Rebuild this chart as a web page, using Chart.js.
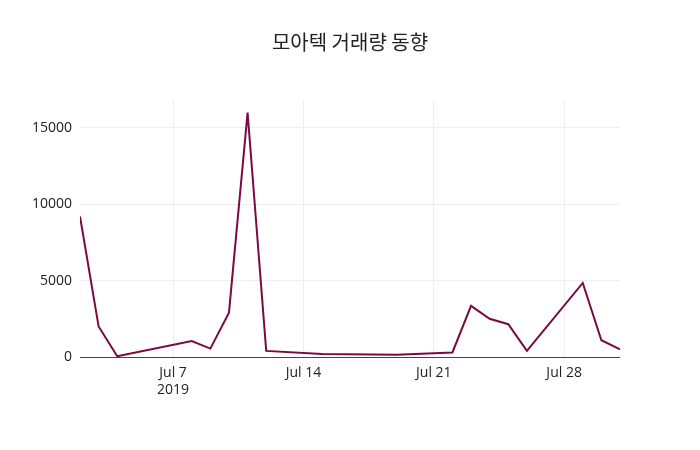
<!DOCTYPE html>
<html><head><meta charset="utf-8">
<script src="https://cdn.jsdelivr.net/npm/chart.js"></script>
<style>body{margin:0;background:#fff}#w{width:700px;height:450px}</style>
</head><body><div id="w"><canvas id="c"></canvas></div>
<script>
const days = [2,3,4,8,9,10,11,12,15,19,22,23,24,25,26,29,30,31];
const volumes = [9200,2000,50,1050,550,2900,16000,400,200,150,300,3350,2500,2150,400,4850,1100,500];
const xTicks = [7,14,21,28];
const xLabels = [["Jul 7","2019"],"Jul 14","Jul 21","Jul 28"];
const yTicks = [0,5000,10000,15000];
const font = {family:"'Open Sans', sans-serif", size:14};
new Chart(document.getElementById('c'),{
  type:'line',
  data:{datasets:[{data:days.map((d,i)=>({x:d,y:volumes[i]})),borderColor:'#7a0a42',borderWidth:2,pointRadius:0,tension:0,fill:false}]},
  options:{
    responsive:true,maintainAspectRatio:false,animation:false,
    layout:{padding:0},
    plugins:{legend:{display:false},tooltip:{enabled:false},
      title:{display:true,text:'모아텍 거래량 동향',color:'#222',font:{family:"'Noto Sans CJK KR', sans-serif",size:20,weight:'normal',lineHeight:1.2},padding:{top:30,bottom:46}}},
    scales:{
      x:{type:'linear',min:2,max:31,
        afterBuildTicks:a=>{a.ticks=xTicks.map(v=>({value:v}));},
        afterFit:a=>{a.height=93;},
        ticks:{color:'#222',font,padding:8,maxRotation:0,callback:(v)=>{const i=xTicks.indexOf(v);return i>=0?xLabels[i]:'';}},
        grid:{color:'#eee',drawTicks:false},border:{display:false}},
      y:{min:0,max:16830,
        afterBuildTicks:a=>{a.ticks=yTicks.map(v=>({value:v}));},
        afterFit:a=>{a.width=80;},
        ticks:{color:'#222',font,padding:8,callback:v=>String(v)},
        grid:{color:c=>c.tick&&c.tick.value===0?'#444':'#eee',drawTicks:false},border:{display:false}},
      yr:{position:'right',min:0,max:16830,
        afterFit:a=>{a.width=80;},
        ticks:{display:false},grid:{display:false,drawTicks:false},border:{display:false}}
    }
  }
});
</script></body></html>
